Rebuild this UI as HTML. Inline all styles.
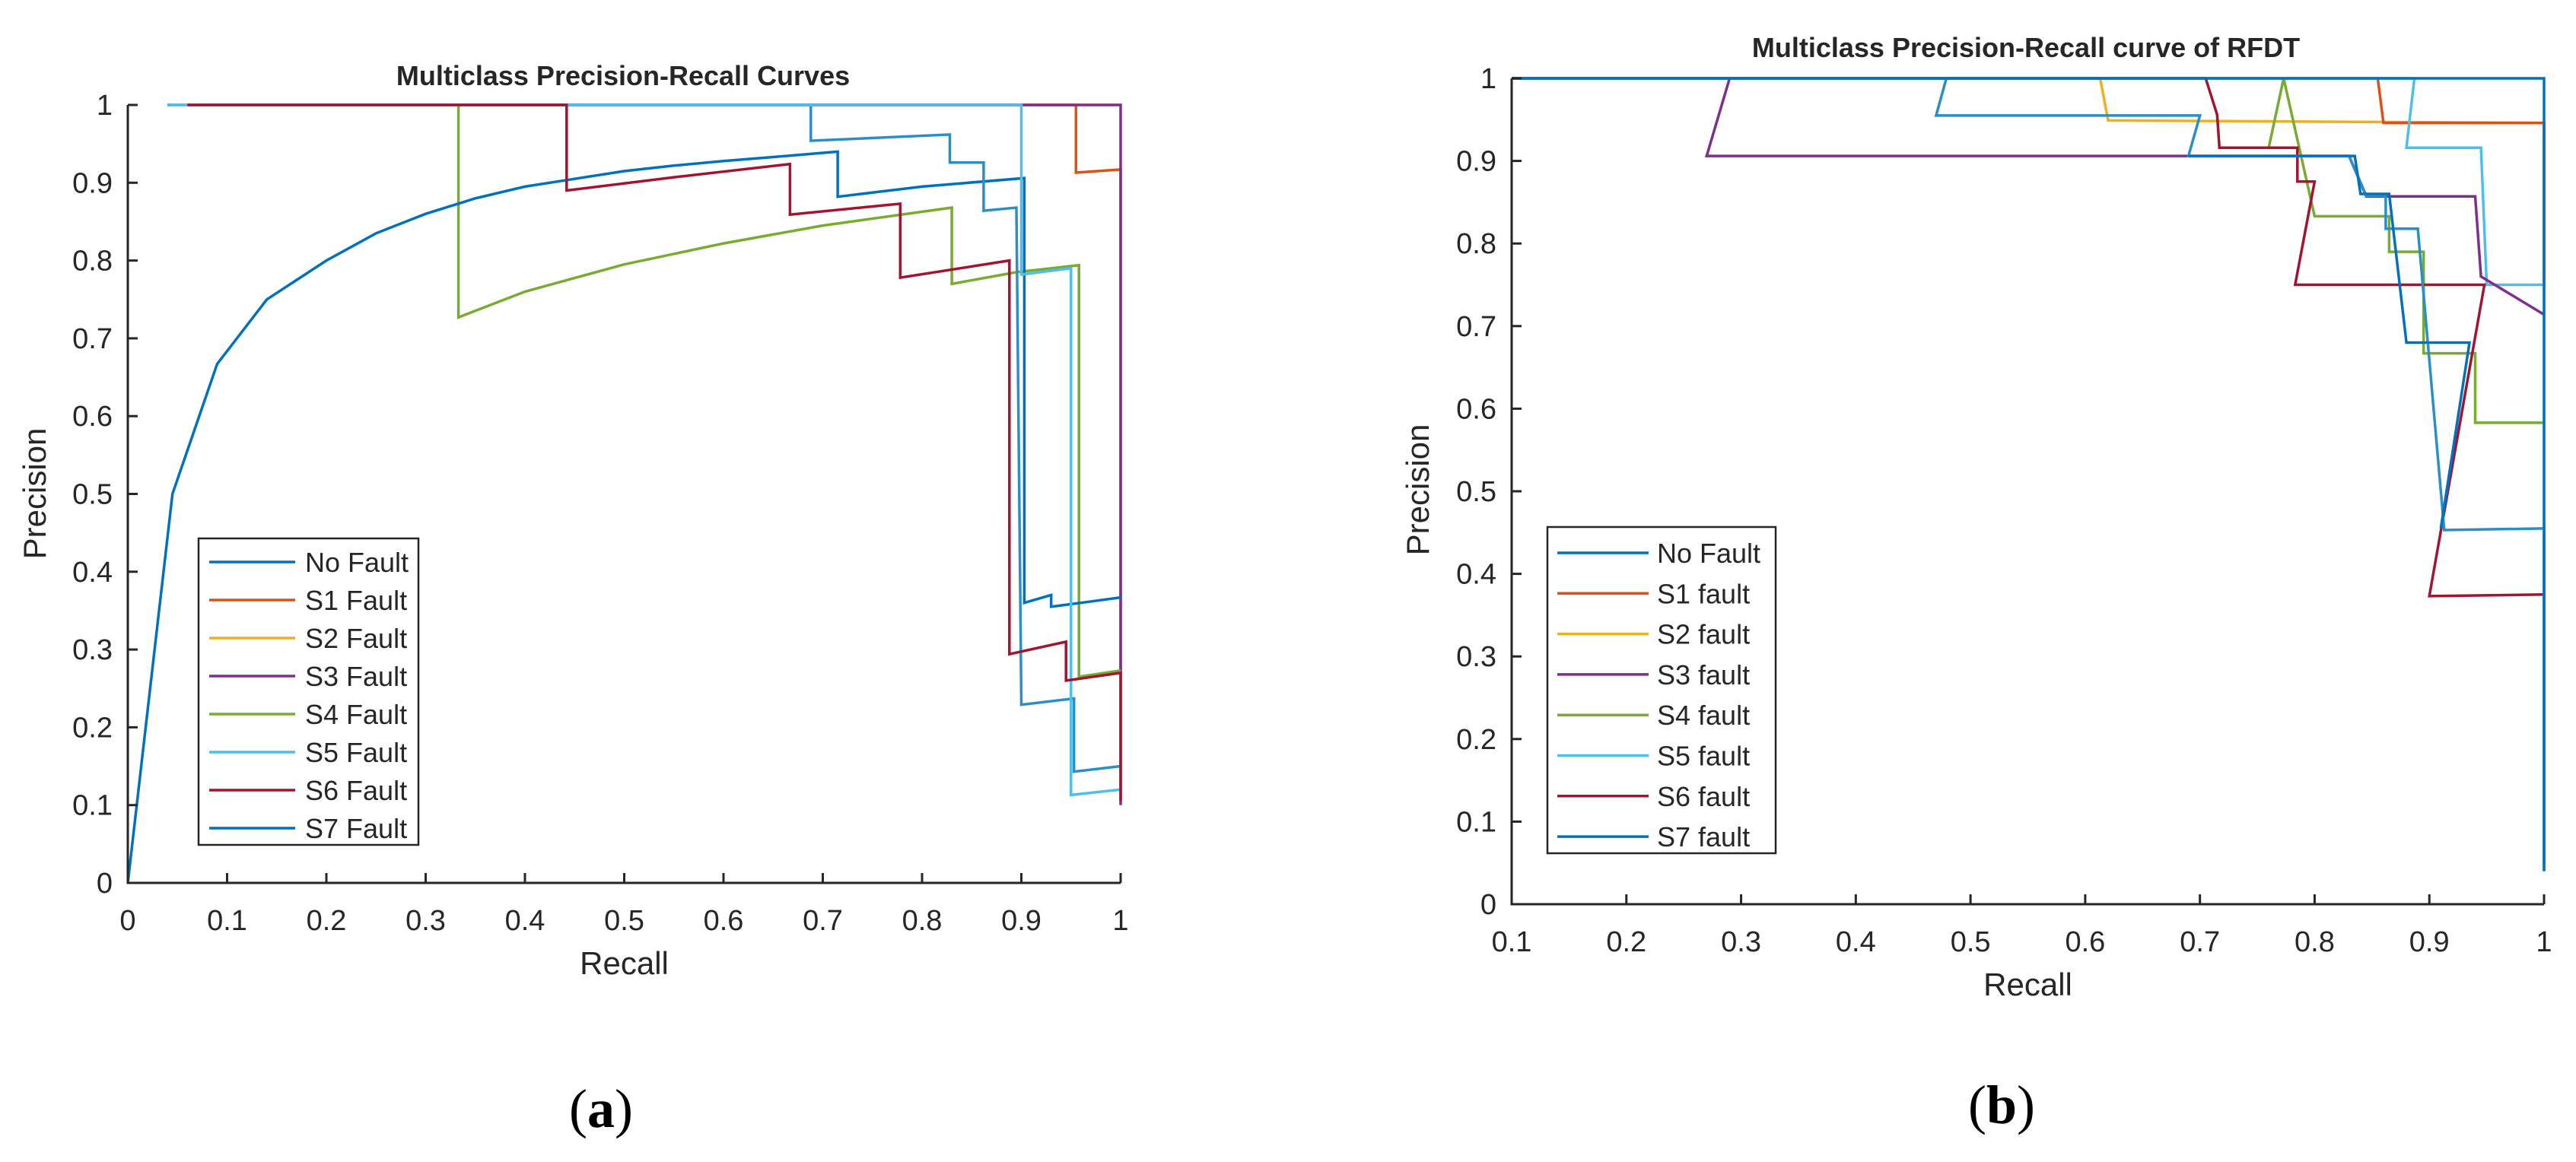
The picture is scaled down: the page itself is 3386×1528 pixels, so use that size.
<!DOCTYPE html>
<html><head><meta charset="utf-8"><style>
body{margin:0;background:#fff}
svg{display:block}
text{font-family:"Liberation Sans",Arial,sans-serif;fill:#262626}
text.cap{font-family:"Liberation Serif","DejaVu Serif",serif;fill:#000}
</style></head><body>
<svg id="fig" width="3386" height="1528" viewBox="0 0 3386 1528" xmlns="http://www.w3.org/2000/svg"></svg>
<script>
const colors=["#0072BD","#D95319","#EDB120","#7E2F8E","#77AC30","#4DBEEE","#A2142F","#0072BD"];
const ticksA=[0,0.1,0.2,0.3,0.4,0.5,0.6,0.7,0.8,0.9,1];
const ticksXB=[0.1,0.2,0.3,0.4,0.5,0.6,0.7,0.8,0.9,1];
const ticksY=[0,0.1,0.2,0.3,0.4,0.5,0.6,0.7,0.8,0.9,1];
const legendA=["No Fault","S1 Fault","S2 Fault","S3 Fault","S4 Fault","S5 Fault","S6 Fault","S7 Fault"];
const legendB=["No Fault","S1 fault","S2 fault","S3 fault","S4 fault","S5 fault","S6 fault","S7 fault"];
// panel a series (recall, precision)
const aS2=[[0.04,1],[1,1]];
const aS3=[[0.06,1],[1,1],[1,0.1]];
const aS1=[[0.06,1],[0.955,1],[0.955,0.913],[1,0.917],[1,0.27]];
const aS5=[[0.04,1],[0.9,1],[0.9,0.782],[0.95,0.79],[0.95,0.113],[1,0.12]];
const aS4=[[0.06,1],[0.333,1],[0.333,0.727],[0.4,0.76],[0.5,0.795],[0.6,0.822],[0.7,0.845],[0.83,0.868],[0.83,0.77],[0.895,0.785],[0.958,0.794],[0.958,0.265],[1,0.273]];
const aS6=[[0.06,1],[0.442,1],[0.442,0.89],[0.55,0.907],[0.667,0.924],[0.667,0.859],[0.778,0.873],[0.778,0.778],[0.888,0.8],[0.888,0.294],[0.945,0.31],[0.945,0.26],[1,0.27],[1,0.105]];
const aNo=[[0,0],[0.045,0.5],[0.09,0.667],[0.14,0.75],[0.2,0.8],[0.25,0.835],[0.3,0.86],[0.35,0.88],[0.4,0.895],[0.45,0.905],[0.5,0.915],[0.55,0.922],[0.6,0.928],[0.65,0.933],[0.715,0.94],[0.715,0.882],[0.8,0.895],[0.903,0.906],[0.903,0.36],[0.93,0.37],[0.93,0.355],[0.96,0.36],[1,0.367]];
const aS7=[[0.04,1],[0.688,1],[0.688,0.954],[0.828,0.962],[0.828,0.926],[0.862,0.926],[0.862,0.864],[0.895,0.868],[0.9,0.229],[0.953,0.237],[0.953,0.143],[1,0.15]];
// panel b series
const bS2=[[0.1,1],[0.613,1],[0.62,0.949],[1,0.946],[1,0.75]];
const bS1=[[0.1,1],[0.855,1],[0.86,0.946],[1,0.946],[1,0.75]];
const bS5=[[0.1,1],[0.887,1],[0.88,0.916],[0.945,0.916],[0.95,0.75],[1,0.75],[1,0.05]];
const bS4=[[0.76,0.916],[0.773,1],[0.773,1],[0.8,0.833],[0.865,0.833],[0.865,0.79],[0.895,0.79],[0.895,0.667],[0.94,0.667],[0.94,0.583],[1,0.583]];
const bS3=[[0.29,1],[0.27,0.906],[0.83,0.906],[0.845,0.857],[0.94,0.857],[0.945,0.76],[1,0.714]];
const bS6=[[0.1,1],[0.705,1],[0.715,0.956],[0.717,0.916],[0.785,0.916],[0.785,0.875],[0.8,0.875],[0.783,0.75],[0.948,0.75],[0.9,0.373],[1,0.375]];
const bNo=[[0.1,1],[0.479,1],[0.47,0.955],[0.7,0.955],[0.69,0.906],[0.83,0.906],[0.845,0.858],[0.862,0.858],[0.862,0.818],[0.89,0.818],[0.913,0.453],[1,0.455],[1,0.04]];
const bS7=[[0.1,1],[1,1],[1,0.04]];
const bS7b=[[0.69,0.906],[0.835,0.906],[0.84,0.86],[0.865,0.86],[0.88,0.68],[0.935,0.68],[0.91,0.455]];

const NS="http://www.w3.org/2000/svg";
const svg=document.getElementById('fig');
function el(tag,attrs,parent){const e=document.createElementNS(NS,tag);for(const k in attrs)e.setAttribute(k,attrs[k]);(parent||svg).appendChild(e);return e;}
function txt(s,attrs,parent){const e=el('text',attrs,parent);e.textContent=s;return e;}

function panel(cfg){
  const g=el('g',{});
  
  
  const sx=v=>cfg.x0+(v-cfg.xmin)/(cfg.xmax-cfg.xmin)*(cfg.x1-cfg.x0);
  const sy=v=>cfg.y0-(v)*(cfg.y0-cfg.y1);
  cfg.series.forEach(s=>{
    const d=s.pts.map((p,i)=>(i?'L':'M')+sx(p[0]).toFixed(1)+' '+sy(p[1]).toFixed(1)).join(' ');
    const p=el('path',{d:d,fill:'none',stroke:s.c,'stroke-width':3.5,'stroke-linejoin':'miter'},g);
    
    
  });
  const ax=el('path',{d:`M${cfg.x0} ${cfg.y1} L${cfg.x0} ${cfg.y0} L${cfg.x1} ${cfg.y0}`,fill:'none',stroke:'#262626','stroke-width':3},g);
  
  
  cfg.xt.forEach(t=>{
    const x=sx(t);
    el('line',{x1:x,x2:x,y1:cfg.y0,y2:cfg.y0-13,stroke:'#262626','stroke-width':3},g);
    const l=txt(String(t),{x:x,y:cfg.y0+62,'font-size':38,'text-anchor':'middle'},g);
    
    
  });
  ticksY.forEach(t=>{
    const y=sy(t);
    el('line',{x1:cfg.x0,x2:cfg.x0+13,y1:y,y2:y,stroke:'#262626','stroke-width':3},g);
    const l=txt(String(t),{x:cfg.x0-20,y:y+13,'font-size':38,'text-anchor':'end'},g);
    
    
  });
  const tt=txt(cfg.title,{x:cfg.tx,y:cfg.ty,'font-size':36,'font-weight':'bold','text-anchor':'middle',fill:'#000'},g);
  
  
  const xl=txt('Recall',{x:(cfg.x0+cfg.x1)/2,y:cfg.y0+120,'font-size':42,'text-anchor':'middle'},g);
  
  
  const yl=txt('Precision',{x:0,y:0,'font-size':42,'text-anchor':'middle',transform:`translate(${cfg.px},${cfg.py}) rotate(-90)`},g);
  
  
  const L=cfg.leg;
  const lg=el('g',{},g);
  
  
  el('rect',{x:L.x,y:L.y,width:L.w,height:L.h,fill:'#fff',stroke:'#262626','stroke-width':2.5},lg);
  cfg.labels.forEach((n,i)=>{
    const y=L.fy+i*L.dy;
    const ln=el('line',{x1:L.lx1,x2:L.lx2,y1:y,y2:y,stroke:colors[i],'stroke-width':3.5},lg);
    
    
    const t=txt(n,{x:L.tx,y:y+13,'font-size':36,fill:'#000'},lg);
    
    
  });
  const cap=el('text',{x:cfg.cx,y:cfg.cy,'font-size':72,'text-anchor':'middle','class':'cap'});
  
  
  cap.innerHTML='(<tspan font-weight="bold">'+cfg.cap+'</tspan>)';
}

panel({name:'panel-a',x0:168,x1:1473,y0:1161,y1:138,xmin:0,xmax:1,xt:ticksA,
  title:'Multiclass Precision-Recall Curves',tx:819,ty:112,px:60,py:649,
  labels:legendA,leg:{x:261,y:708,w:289,h:403,fy:739,dy:50,lx1:275,lx2:388,tx:401},
  cap:'a',cx:790,cy:1482,
  series:[{n:'s2-fault-curve',c:colors[2],pts:aS2},{n:'s1-fault-curve',c:colors[1],pts:aS1},{n:'s3-fault-curve',c:colors[3],pts:aS3},
    {n:'s4-fault-curve',c:colors[4],pts:aS4},
    {n:'no-fault-curve',c:colors[0],pts:aNo},{n:'s7-fault-curve',c:"#2a8fc8",pts:aS7},
    {n:'s5-fault-curve',c:colors[5],pts:aS5},{n:'s6-fault-curve',c:colors[6],pts:aS6}]});

panel({name:'panel-b',x0:1987,x1:3344,y0:1189,y1:103,xmin:0.1,xmax:1,xt:ticksXB,
  title:'Multiclass Precision-Recall curve of RFDT',tx:2663,ty:75,px:1878,py:644,
  labels:legendB,leg:{x:2034,y:693,w:300,h:429,fy:727,dy:53.3,lx1:2047,lx2:2167,tx:2178},
  cap:'b',cx:2631,cy:1477,
  series:[{n:'s2-fault-curve',c:colors[2],pts:bS2},{n:'s1-fault-curve',c:colors[1],pts:bS1},{n:'s5-fault-curve',c:colors[5],pts:bS5},
    {n:'s4-fault-curve',c:colors[4],pts:bS4},{n:'s3-fault-curve',c:colors[3],pts:bS3},{n:'s6-fault-curve',c:colors[6],pts:bS6},
    {n:'no-fault-curve',c:"#2a8fc8",pts:bNo},{n:'s7-fault-curve-steps',c:colors[0],pts:bS7b},{n:'s7-fault-curve',c:colors[0],pts:bS7}]});
</script>
</body></html>
